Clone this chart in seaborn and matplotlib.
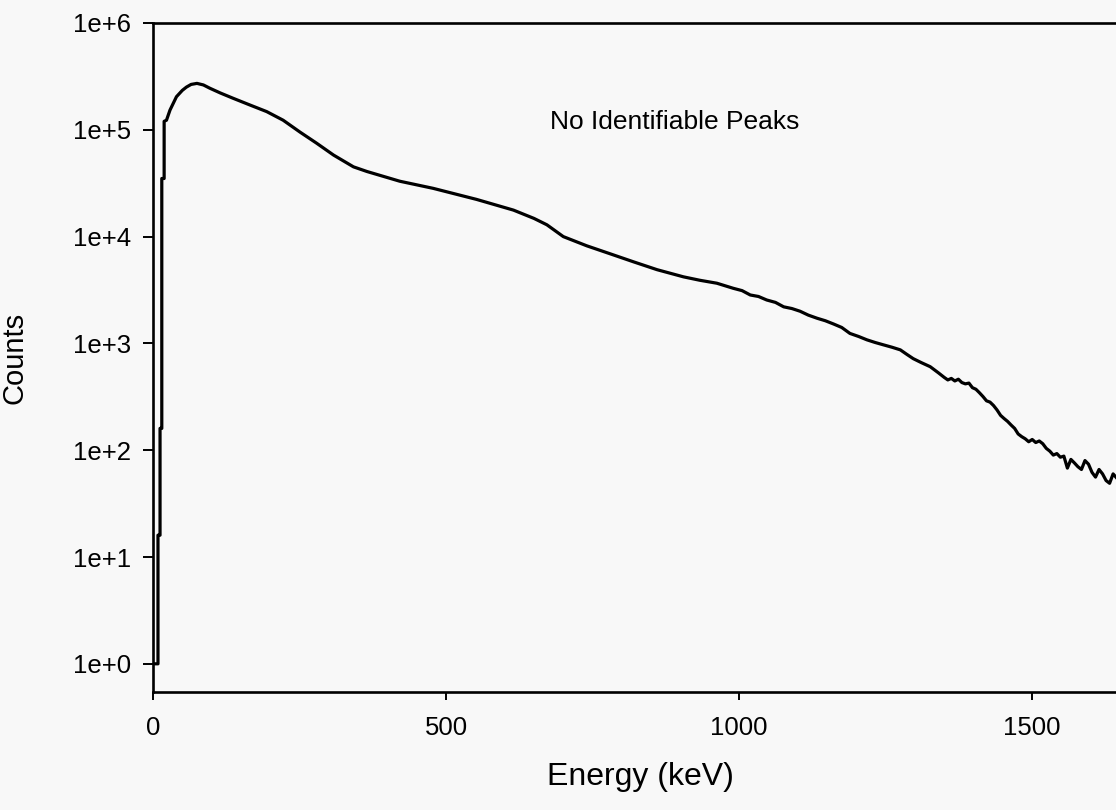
"""Gamma spectrum, counts vs energy on a log axis, with a note that no peaks were found."""
import numpy as np
import pandas as pd

import seaborn as sns
import matplotlib
matplotlib.use("Agg")
import matplotlib.pyplot as plt
import matplotlib.ticker as mticker

sns.set_style("ticks")
plt.rcParams["font.family"] = ["Liberation Sans", "DejaVu Sans"]
plt.rcParams["text.color"] = "black"
plt.rcParams["axes.labelcolor"] = "black"
plt.rcParams["xtick.color"] = "black"
plt.rcParams["ytick.color"] = "black"


############################## Data.

# Low-energy threshold rise; repeated energies give the vertical steps.
energy_rise = [0, 8.5, 8.5, 12, 12, 15, 15, 19, 19, 23]
counts_rise = [1, 1, 16, 16, 160, 160, 3.5e4, 3.5e4, 1.2e5, 1.23e5]

# Smooth continuum.
energy_body = [29, 40, 50, 57, 65, 75, 86, 97, 115, 137, 165, 194, 222,
               251, 279, 308, 342, 365, 421, 478, 552, 615, 650, 672, 700,
               740, 780, 820, 860, 905, 933, 962, 990, 1005, 1019, 1033,
               1047, 1062, 1076, 1090, 1104, 1118, 1133, 1147, 1161, 1175,
               1189, 1204, 1218, 1232, 1246, 1261, 1275, 1286, 1297, 1311,
               1326, 1340]
counts_body = [1.53e5, 2.04e5, 2.34e5, 2.51e5, 2.66e5, 2.72e5, 2.63e5,
               2.45e5, 2.21e5, 1.97e5, 1.71e5, 1.48e5, 1.23e5, 9.5e4, 7.5e4,
               5.8e4, 4.5e4, 4.07e4, 3.3e4, 2.83e4, 2.23e4, 1.77e4, 1.48e4,
               1.29e4, 1.0e4, 8.2e3, 6.9e3, 5.8e3, 4.9e3, 4.2e3, 3.9e3,
               3.66e3, 3.28e3, 3.12e3, 2.84e3, 2.75e3, 2.55e3, 2.42e3,
               2.2e3, 2.12e3, 2.0e3, 1.84e3, 1.72e3, 1.63e3, 1.52e3, 1.41e3,
               1.24e3, 1.16e3, 1.08e3, 1.02e3, 9.7e2, 9.2e2, 8.7e2, 7.9e2,
               7.2e2, 6.6e2, 6.05e2, 5.3e2]

# Noisy high-energy tail.
energy_tail = [1350, 1356, 1362, 1368, 1374, 1380, 1386, 1392, 1398, 1404,
               1410, 1416, 1422, 1428, 1434, 1440, 1446, 1452, 1458, 1464,
               1470, 1476, 1482, 1488, 1494, 1500, 1506, 1512, 1518, 1524,
               1530, 1536, 1542, 1548, 1554, 1560, 1566, 1572, 1578, 1584,
               1590, 1596, 1602, 1608, 1614, 1620, 1626, 1632, 1638, 1644,
               1650, 1656, 1662]
counts_tail = [480, 455, 470, 445, 462, 430, 418, 425, 385, 372,
               345, 318, 290, 282, 262, 238, 212, 198, 186, 172,
               160, 142, 134, 128, 120, 126, 118, 122, 115, 104,
               98, 90, 93, 86, 88, 68, 82, 76, 70, 66,
               80, 74, 62, 56, 66, 60, 52, 49, 60, 55,
               50, 58, 48]

spectrum = pd.DataFrame({
    "energy": energy_rise + energy_body + energy_tail,
    "counts": counts_rise + counts_body + counts_tail,
})

NOTE = "No Identifiable Peaks"
YTICKS = [1e0, 1e1, 1e2, 1e3, 1e4, 1e5, 1e6]
XTICKS = [0, 500, 1000, 1500]


############################## Figure.

BG = "#f8f8f8"
fig = plt.figure(figsize=(11.16, 8.10), dpi=100, facecolor=BG)
# axes runs a bit past the right edge, like the cropped scan
ax = fig.add_axes([153 / 1116, 118 / 810, 973 / 1116, 669 / 810])
ax.set_facecolor(BG)

sns.lineplot(data=spectrum, x="energy", y="counts", estimator=None,
             sort=False, color="black", linewidth=2.3, ax=ax)

ax.set_yscale("log")
ax.set_ylim(10 ** -0.264, 1e6)
ax.set_xlim(0, 1660)

ax.yaxis.set_major_locator(mticker.FixedLocator(YTICKS))
ax.yaxis.set_minor_locator(mticker.NullLocator())
ax.yaxis.set_major_formatter(
    mticker.FuncFormatter(lambda v, _: f"1e+{int(round(np.log10(v)))}"))
ax.set_xticks(XTICKS)
ax.xaxis.set_major_formatter(mticker.FuncFormatter(lambda v, _: f"{v:.0f}"))

ax.tick_params(axis="y", length=7, width=1.4, pad=9, labelsize=18.5)
ax.tick_params(axis="x", length=6, width=1.4, pad=11, labelsize=18.5)

for side in ["left", "bottom", "top"]:
    ax.spines[side].set_visible(True)
    ax.spines[side].set_linewidth(1.9)
    ax.spines[side].set_color("black")
ax.spines["right"].set_visible(False)

ax.set_xlabel("Energy (keV)", fontsize=23)
ax.set_ylabel("Counts", fontsize=21)
ax.xaxis.set_label_coords((640 - 153) / 973, -0.105)
ax.yaxis.set_label_coords(-0.128, 0.5)

ax.text((675 - 153) / 973, (692 - 122) / 669, NOTE, transform=ax.transAxes,
        fontsize=19, ha="center", va="center")

fig.savefig("out.png", dpi=100, facecolor=BG)
plt.close(fig)
